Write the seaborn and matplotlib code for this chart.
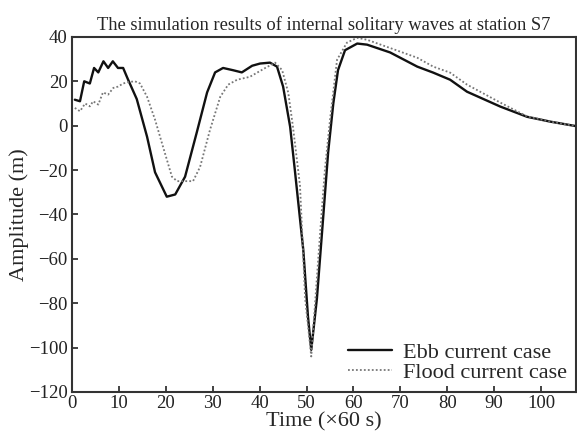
import numpy as np
import pandas as pd
import matplotlib
matplotlib.use("Agg")
import matplotlib.pyplot as plt
import seaborn as sns

sns.set_style("ticks")
plt.rcParams['font.family'] = ['Liberation Serif', 'DejaVu Serif']
plt.rcParams['mathtext.fontset'] = 'stix'

ebb_t = [0.6, 1.7, 2.6, 3.8, 4.7, 5.6, 6.7, 7.7, 8.7, 9.8, 10.9, 11.9, 13.8, 16.0, 17.7, 20.2, 22.0,
         24.1, 26.6, 28.8, 30.5, 32.2, 34.3, 36.2, 38.4, 40.1, 42.2, 43.7, 45.0, 46.5, 47.5, 48.6,
         49.3, 50.3, 51.0, 52.2, 53.3, 54.6, 55.7, 56.7, 58.2, 60.8, 62.9, 67.8, 73.6, 77.0, 80.6,
         84.2, 91.3, 97.0, 102.0, 107.7]
ebb_amp = [11.7, 11.0, 20.0, 19.0, 26.0, 24.0, 29.0, 26.0, 29.0, 26.0, 26.0, 21.0, 12.0, -5.0, -21.0, -32.0, -31.0,
           -23.0, -3.0, 15.0, 24.0, 26.0, 25.0, 24.0, 27.0, 28.0, 28.4, 26.6, 17.6, -0.5, -20.0, -42.0,
           -56.0, -86.0, -101.0, -78.0, -48.0, -12.0, 10.0, 25.0, 34.0, 37.0, 36.5, 33.0, 26.6, 23.9, 20.7,
           15.3, 8.6, 4.0, 1.8, -0.3]

flood_t = [0.6, 1.7, 2.8, 3.8, 4.5, 5.6, 6.6, 7.7, 8.8, 9.8, 10.9, 11.9, 13.4, 14.5, 16.0, 17.7, 19.4,
           21.3, 22.4, 25.8, 27.3, 29.4, 31.6, 33.3, 35.2, 37.9, 41.2, 43.3, 44.8, 46.1, 47.1, 48.6,
           49.7, 51.0, 52.9, 53.9, 55.0, 56.5, 58.6, 60.8, 62.9, 67.8, 73.6, 77.0, 80.6, 84.2, 91.3,
           95.5, 97.0, 102.0, 107.7]
flood_amp = [8.0, 6.5, 10.0, 8.7, 11.0, 9.5, 15.0, 14.0, 17.0, 17.6, 19.0, 19.6, 20.0, 19.0, 13.0, 2.7, -9.5,
             -23.0, -25.0, -25.0, -18.6, -2.0, 13.0, 18.5, 20.7, 22.0, 26.0, 28.4, 25.0, 14.8, -0.5, -27.0,
             -78.0, -104.0, -48.0, -20.0, 2.7, 29.7, 37.4, 39.6, 38.7, 35.0, 30.6, 26.6, 23.9, 18.5, 10.4,
             5.8, 4.2, 1.8, -0.3]

x_ticks = [0, 10, 20, 30, 40, 50, 60, 70, 80, 90, 100]
y_ticks = [40, 20, 0, -20, -40, -60, -80, -100, -120]

df = pd.concat([
    pd.DataFrame({"t": ebb_t, "amp": ebb_amp, "case": "Ebb current case"}),
    pd.DataFrame({"t": flood_t, "amp": flood_amp, "case": "Flood current case"}),
])

fig = plt.figure(figsize=(5.77, 4.32), dpi=100)
ax = fig.add_axes([0.1248, 0.0926, 0.874, 0.822])

sns.lineplot(data=df, x="t", y="amp", hue="case", style="case",
             palette={"Ebb current case": "#111111", "Flood current case": "#777777"},
             dashes={"Ebb current case": "", "Flood current case": (1, 1.2)},
             sort=False, estimator=None, ax=ax, legend=True)
for ln, lw in zip(ax.lines, [1.7, 1.3]):
    ln.set_linewidth(lw)

ax.set_xlim(0, 107.5)
ax.set_ylim(-120, 40)
ax.set_xticks(x_ticks)
ax.set_yticks(y_ticks)
ax.set_yticklabels([str(v).replace('-', '\u2212') for v in y_ticks])
ax.tick_params(direction='in', length=4, width=1.2, labelsize=13.5, colors='#222222')
ax.tick_params(axis='x', pad=2)
ax.tick_params(axis='y', pad=3)
for s in ax.spines.values():
    s.set_linewidth(1.5)
    s.set_color('#333333')
ax.set_xlabel("Time (\u00d760 s)", fontsize=16, labelpad=0)
ax.set_ylabel("Amplitude (m)", fontsize=16, labelpad=0)
ax.set_title("The simulation results of internal solitary waves at station S7", fontsize=13.3, pad=5)

leg = ax.legend(loc='lower right', frameon=False, fontsize=16, handlelength=2.0,
                borderaxespad=0.0, labelspacing=0.0, handletextpad=0.5)
handles = leg.get_lines()
handles[0].set_linewidth(1.7)
handles[1].set_linewidth(1.3)

fig.savefig("out.png", dpi=100)
